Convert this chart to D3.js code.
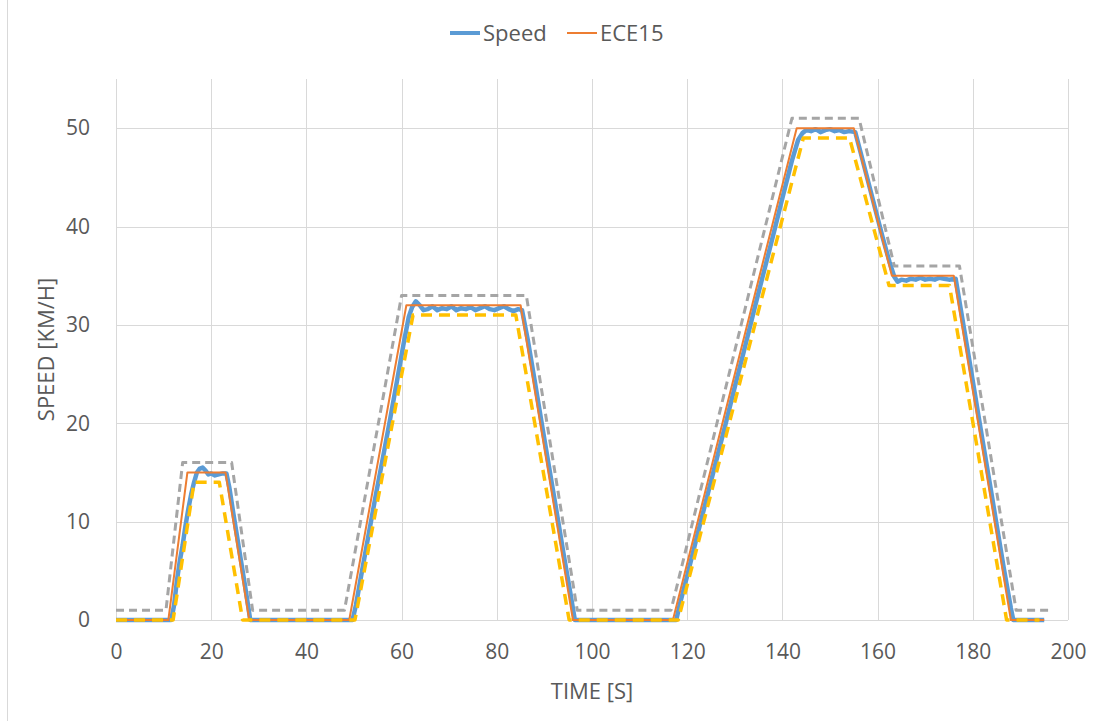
<!DOCTYPE html>
<html>
<head>
<meta charset="utf-8">
<script src="https://cdn.jsdelivr.net/npm/d3@7"></script>
<style>
  body { margin: 0; background: #fff; }
  svg text { font-family: "Open Sans", sans-serif; fill: #595959; }
</style>
</head>
<body>
<script>
/* ECE15 drive cycle with tolerance band and measured speed */
var timeTicks = [0, 20, 40, 60, 80, 100, 120, 140, 160, 180, 200];
var speedTicks = [0, 10, 20, 30, 40, 50];

var ecTime  = [0, 11, 15, 23, 28, 49, 61, 85, 96, 117, 143, 155, 163, 176, 188, 195];
var ecSpeed = [0, 0, 15, 15, 0, 0, 32, 32, 0, 0, 50, 50, 35, 35, 0, 0];

var upTime  = [0, 10.5, 14, 24.3, 28.7, 48, 60, 86.2, 96.9, 116.6, 142, 156.1, 163.5, 177.2, 189.1, 196];
var upSpeed = [1, 1, 16, 16, 1, 1, 33, 33, 1, 1, 51, 51, 36, 36, 1, 1];

var lowTime  = [0, 12, 16.4, 21.7, 26.6, 50.2, 62.4, 84, 95.2, 118.1, 144.4, 154.1, 162.4, 175.1, 187.1, 194];
var lowSpeed = [0, 0, 14, 14, 0, 0, 31, 31, 0, 0, 49, 49, 34, 34, 0, 0];

var measTime = [0, 11.6, 12.2, 12.8, 13.4, 14, 14.6, 15.2, 15.8, 16.4, 17, 17.6, 18.2, 18.8, 19.4, 20, 20.8, 21.6, 22.4, 23.2,
  23.8, 24.6, 25.4, 26.2, 27, 27.8, 28.2,
  49.7, 50.4, 51.5, 53, 54.5, 56, 57.5, 59, 60.5, 61.5, 62.2, 63, 63.8, 64.6, 65.5, 66.5, 67.5, 68.5, 69.5, 70.5,
  71.5, 72.5, 73.5, 74.5, 75.5, 76.5, 77.5, 78.5, 79.5, 80.5, 81.5, 82.5, 83.5, 84.5, 85.3,
  86.5, 88, 89.5, 91, 92.5, 94, 95.5, 96.4,
  117.7, 118.4, 120, 122, 124, 126, 128, 130, 132, 134, 136, 138, 140, 142, 143.3, 144.2, 145, 146, 147, 148, 149,
  150, 151, 152, 153, 154, 155.3, 156.5, 158, 159.5, 161, 162.5, 163.5, 164.2, 165, 166, 167, 168, 169, 170, 171,
  172, 173, 174, 175, 176.4, 177.5, 179, 180.5, 182, 183.5, 185, 186.5, 188, 188.5, 195];
var measSpeed = [0, 0, 1.5, 4, 6, 7.6, 9.6, 11.3, 12.8, 14, 15, 15.4, 15.5, 15.2, 14.8, 14.9, 14.7, 14.8, 14.9, 14.9,
  13.5, 11, 8.6, 6.2, 3.8, 1.3, 0,
  0, 1.5, 4.5, 8.5, 12.5, 16.3, 20.2, 24.2, 28.3, 30.8, 31.8, 32.4, 32.0, 31.5, 31.6, 31.9, 31.5, 31.7, 31.6, 31.9,
  31.5, 31.7, 31.6, 31.8, 31.5, 31.7, 31.9, 31.6, 31.5, 31.7, 31.9, 31.6, 31.4, 31.6, 31.5,
  28.5, 24.2, 19.8, 15.5, 11.2, 6.8, 2.6, 0,
  0, 1.5, 4.5, 8.4, 12.2, 16, 19.8, 23.7, 27.5, 31.4, 35.2, 39, 42.9, 46.7, 48.8, 49.5, 49.8, 49.7, 49.9, 49.6, 49.8,
  49.9, 49.7, 49.8, 49.6, 49.7, 49.6, 47.4, 44.6, 41.8, 39, 36.4, 34.9, 34.4, 34.6, 34.5, 34.7, 34.6, 34.8, 34.6, 34.7,
  34.6, 34.8, 34.7, 34.6, 34.7, 31.5, 27.2, 22.8, 18.4, 14.1, 9.7, 5.3, 1.2, 0, 0];

var W = 1100, H = 721;
var m = { left: 116, right: 1068, top: 79, bottom: 620 };

var svg = d3.select("body").append("svg")
  .attr("width", W)
  .attr("height", H);

// chart frame edge on the left
svg.append("line")
  .attr("x1", 7.5).attr("x2", 7.5)
  .attr("y1", 0).attr("y2", H)
  .attr("stroke", "#d9d9d9");

var x = d3.scaleLinear().domain([0, 200]).range([m.left, m.right]);
var y = d3.scaleLinear().domain([0, 55]).range([m.bottom, m.top]);

// grid
svg.append("g").selectAll("line")
  .data(timeTicks).enter().append("line")
  .attr("x1", function(d) { return Math.round(x(d)) + 0.5; })
  .attr("x2", function(d) { return Math.round(x(d)) + 0.5; })
  .attr("y1", m.top).attr("y2", m.bottom)
  .attr("stroke", "#d9d9d9");
svg.append("g").selectAll("line")
  .data(speedTicks).enter().append("line")
  .attr("x1", m.left).attr("x2", m.right)
  .attr("y1", function(d) { return Math.round(y(d)) + 0.5; })
  .attr("y2", function(d) { return Math.round(y(d)) + 0.5; })
  .attr("stroke", "#d9d9d9");

// axes (labels only, Excel style)
var xAxis = svg.append("g")
  .attr("transform", "translate(0," + (m.bottom + 24) + ")")
  .call(d3.axisBottom(x).tickValues(timeTicks).tickSize(0).tickPadding(0));
var yAxis = svg.append("g")
  .attr("transform", "translate(" + (m.left - 26) + ",0)")
  .call(d3.axisLeft(y).tickValues(speedTicks).tickSize(0).tickPadding(0));
[xAxis, yAxis].forEach(function(a) {
  a.select(".domain").remove();
  a.selectAll("text")
    .style("font-family", "'Open Sans', sans-serif")
    .style("font-size", "21px")
    .attr("fill", "#595959");
});

svg.append("text")
  .attr("x", (m.left + m.right) / 2)
  .attr("y", 699)
  .attr("text-anchor", "middle")
  .style("font-size", "22px")
  .text("TIME [S]");
svg.append("text")
  .attr("transform", "translate(54," + ((m.top + m.bottom) / 2) + ") rotate(-90)")
  .attr("text-anchor", "middle")
  .style("font-size", "22px")
  .text("SPEED [KM/H]");

function zip(t, v) {
  return t.map(function(d, i) { return [d, v[i]]; });
}
var line = d3.line()
  .x(function(d) { return x(d[0]); })
  .y(function(d) { return y(d[1]); });

var series = [
  { pts: zip(measTime, measSpeed), color: "#5b9bd5", width: 4.5, dash: null },
  { pts: zip(ecTime, ecSpeed),     color: "#ed7d31", width: 2,   dash: null },
  { pts: zip(upTime, upSpeed),     color: "#a5a5a5", width: 3,   dash: "8,5" },
  { pts: zip(lowTime, lowSpeed),   color: "#ffc000", width: 3.5, dash: "11,7" }
];
svg.append("g").selectAll("path")
  .data(series).enter().append("path")
  .attr("d", function(d) { return line(d.pts); })
  .attr("fill", "none")
  .attr("stroke", function(d) { return d.color; })
  .attr("stroke-width", function(d) { return d.width; })
  .attr("stroke-linejoin", "round")
  .attr("stroke-dasharray", function(d) { return d.dash; });

// legend
var legend = [
  { name: "Speed", color: "#5b9bd5", width: 4, x: 450 },
  { name: "ECE15", color: "#ed7d31", width: 2, x: 567 }
];
var lg = svg.append("g").selectAll("g")
  .data(legend).enter().append("g")
  .attr("transform", function(d) { return "translate(" + d.x + ",33)"; });
lg.append("line")
  .attr("x1", 0).attr("x2", 30)
  .attr("stroke", function(d) { return d.color; })
  .attr("stroke-width", function(d) { return d.width; });
lg.append("text")
  .attr("x", 33).attr("y", 8)
  .style("font-size", "22px")
  .text(function(d) { return d.name; });
</script>
</body>
</html>
